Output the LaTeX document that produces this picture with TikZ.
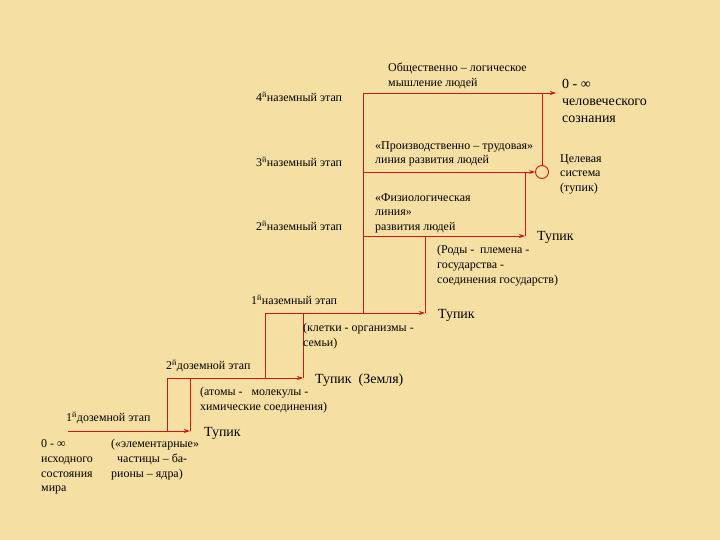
\documentclass[tikz,border=0pt]{standalone}
\usepackage{fontspec}
\setmainfont{Liberation Serif}
\usetikzlibrary{arrows.meta}
\definecolor{bgc}{RGB}{245,223,162}
\definecolor{lnc}{RGB}{210,20,20}
\begin{document}
\begin{tikzpicture}[x=1bp,y=-1bp,
  ln/.style={draw=lnc,line width=0.9bp},
  arr/.style={ln,-{Stealth[length=6bp,width=4bp]}},
  sm/.style={anchor=west,inner sep=0pt,align=left,font=\fontsize{12}{15}\selectfont},
  big/.style={anchor=west,inner sep=0pt,align=left,font=\fontsize{14}{17}\selectfont}]
\fill[bgc] (0,0) rectangle (720,540);
\useasboundingbox (0,0) rectangle (720,540);
% corners
\coordinate (a0) at (68,431);  \coordinate (b0) at (167,431); \coordinate (d0) at (190,431);
\coordinate (a1) at (167,378); \coordinate (c1) at (190,378); \coordinate (b1) at (265,378); \coordinate (d1) at (303,378);
\coordinate (a2) at (265,313); \coordinate (c2) at (303,313); \coordinate (b2) at (363,313); \coordinate (d2) at (425,313);
\coordinate (a3) at (363,236); \coordinate (d3) at (525,236);
\coordinate (a4) at (363,172); \coordinate (c4) at (525,172);
\coordinate (a5) at (363,93);  \coordinate (e5) at (542,93); \coordinate (d5) at (556,93);
\node[circle,draw=lnc,line width=0.9bp,minimum size=13bp,inner sep=0pt] (goal) at (542,172) {};
% steps
\draw[arr] (a0) -- (d0);
\draw[ln] (b0) -- (a1); \draw[ln] (d0) -- (c1);
\draw[arr] (a1) -- (d1);
\draw[ln] (b1) -- (a2); \draw[ln] (d1) -- (c2);
\draw[arr] (a2) -- (d2);
\draw[ln] (b2) -- (a5); \draw[ln] (d2) -- (425,236);
\draw[arr] (a3) -- (d3);
\draw[ln] (d3) -- (c4);
\draw[arr] (a4) -- (goal.west);
\draw[ln] (goal.north) -- (e5);
\draw[arr] (a5) -- (d5);
% stage labels
\node[sm] (s1) at (66,418) {1\textsuperscript{й}доземной этап};
\node[sm] (s2) at (166,366) {2\textsuperscript{й}доземной этап};
\node[sm] (s3) at (251,300) {1\textsuperscript{й}наземный этап};
\node[sm] (s4) at (256,226) {2\textsuperscript{й}наземный этап};
\node[sm] (s5) at (256,162) {3\textsuperscript{й}наземный этап};
\node[sm] (s6) at (256,97) {4\textsuperscript{й}наземный этап};
% descriptions
\node[sm,anchor=north west] (t0) at (41,439) {0 - ∞\\исходного\\состояния\\мира};
\node[sm,anchor=north west] (t1) at (111,439) {(«элементарные»\\\ \ частицы – ба-\\рионы – ядра)};
\node[big] (k0) at (204,433) {Тупик};
\node[sm,anchor=north west] (t2) at (200,387) {(атомы -\ \ \ молекулы -\\химические соединения)};
\node[big] (k1) at (315,380) {Тупик\ \ (Земля)};
\node[sm,anchor=north west] (t3) at (303,323) {(клетки - организмы -\\семьи)};
\node[big] (k2) at (438,315) {Тупик};
\node[sm,anchor=north west] (t4) at (437,245) {(Роды -\ \ племена -\\государства -\\соединения государств)};
\node[big] (k3) at (537,237) {Тупик};
\node[sm,anchor=north west] (t5) at (375,193) {«Физиологическая\\линия»\\развития людей};
\node[sm,anchor=north west] (t6) at (375,141) {«Производственно – трудовая»\\линия развития людей};
\node[sm,anchor=north west] (t7) at (560,154) {Целевая\\система\\(тупик)};
\node[sm,anchor=north west] (t8) at (388,63) {Общественно – логическое\\мышление людей};
\node[big,anchor=north west] (t9) at (562,79) {0 - ∞\\человеческого\\сознания};
\end{tikzpicture}
\end{document}
